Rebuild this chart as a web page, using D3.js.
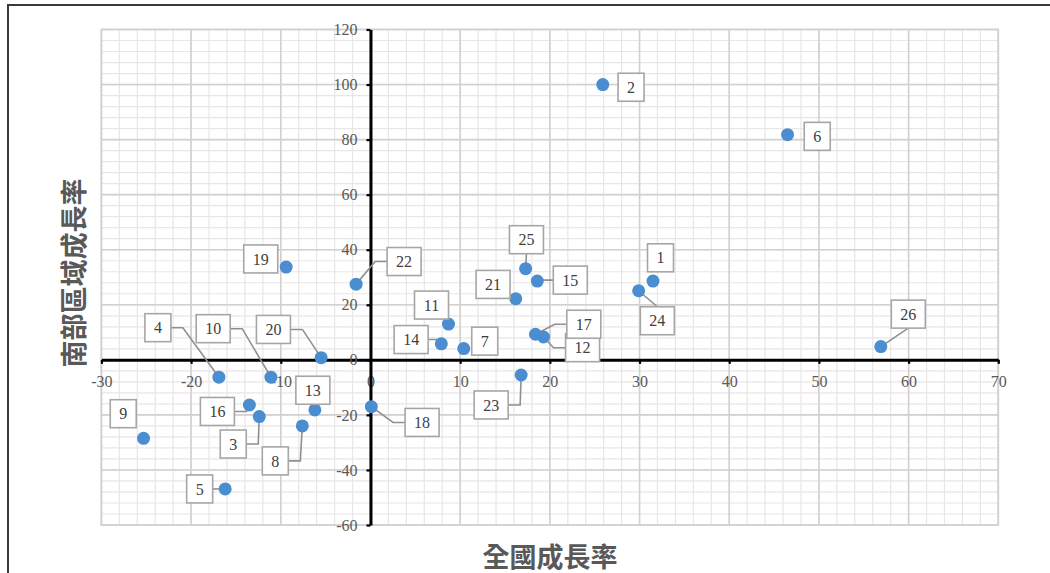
<!DOCTYPE html>
<html>
<head>
<meta charset="utf-8">
<script src="https://cdn.jsdelivr.net/npm/d3@7/dist/d3.min.js"></script>
<style>
  html, body { margin: 0; padding: 0; background: #fff; }
  svg { display: block; }
</style>
</head>
<body>
<svg id="chart" width="1050" height="573"></svg>
<script>
// Region numbers with their national growth rate (x) and southern-region growth rate (y), in %
const regionIds      = [1, 2, 3, 4, 5, 6, 7, 8, 9, 10, 11, 12, 13, 14, 15, 16, 17, 18, 19, 20, 21, 22, 23, 24, 25, 26];
const nationalGrowth = [31.5, 25.9, -12.4, -16.9, -16.2, 46.5, 10.4, -7.6, -25.3, -11.1, 8.7, 19.3, -6.2, 7.9, 18.6, -13.5, 18.4, 0.1, -9.4, -5.5, 16.2, -1.6, 16.8, 29.9, 17.3, 56.9];
const southGrowth    = [28.6, 100, -20.6, -6.3, -46.9, 81.8, 4.1, -24.0, -28.5, -6.3, 13.0, 8.3, -18.2, 5.8, 28.6, -16.4, 9.3, -17.0, 33.7, 0.8, 22.2, 27.5, -5.5, 25.1, 33.1, 4.8];

// Axis ticks
const xTicks = [-30, -20, -10, 0, 10, 20, 30, 40, 50, 60, 70];
const yTicks = [-60, -40, -20, 0, 20, 40, 60, 80, 100, 120];

// Axis titles
const xTitle = "全國成長率";
const yTitle = "南部區域成長率";

// Data-label placement: pixel offset of each label box from its point, and which
// box edge the leader line leaves from (null = no leader line)
const labelDx     = [7.5, 28.3, -26, -61, -25.5, 29.7, 21, -27, -20.3, -57.7, -17, 39, -2, -30.2, 33, -32, 48.3, 50.7, -25.4, -47.7, -22.7, 48, -30, 18.7, 0.8, 27.5];
const labelDy     = [-23.3, 2.7, 27.5, -49.5, 0, 1.7, -7.4, 35, -24.6, -48.5, -19, 10.7, -19.7, -4.3, -1, 6.5, -10, 15.8, -8.1, -28.2, -14.3, -22.6, 30, 30, -29, -32.5];
const labelLeader = [null, null, "R", "R", "R", null, null, "R", null, "R", null, "L", null, "R", "L", "R", "L", "L", null, "R", null, "L", "R", "T", "B", "B"];

const points = regionIds.map((id, i) => ({
  id, x: nationalGrowth[i], y: southGrowth[i],
  dx: labelDx[i], dy: labelDy[i], leader: labelLeader[i]
}));

const svg = d3.select("#chart");

// Outer frame
svg.append("path")
  .attr("d", "M8,1060 L8,5 L1060,5")
  .attr("fill", "none")
  .attr("stroke", "#3a3a3a")
  .attr("stroke-width", 2);

const plot = { left: 101.4, right: 998.3, top: 29.5, bottom: 525 };

const x = d3.scaleLinear().domain([-30, 70]).range([plot.left, plot.right]);
const y = d3.scaleLinear().domain([-60, 120]).range([plot.bottom, plot.top]);

// Grid: minor lines every 2 (x) and 4 (y), major lines at the tick values
const grid = svg.append("g");
grid.selectAll("line.vminor").data(d3.range(-30, 70.01, 2)).join("line")
  .attr("x1", d => x(d)).attr("x2", d => x(d))
  .attr("y1", plot.top).attr("y2", plot.bottom)
  .attr("stroke", "#e8e6e6").attr("stroke-width", 1.2);
grid.selectAll("line.hminor").data(d3.range(-60, 120.01, 4)).join("line")
  .attr("y1", d => y(d)).attr("y2", d => y(d))
  .attr("x1", plot.left).attr("x2", plot.right)
  .attr("stroke", "#e8e6e6").attr("stroke-width", 1.2);
grid.selectAll("line.vmajor").data(xTicks).join("line")
  .attr("x1", d => x(d)).attr("x2", d => x(d))
  .attr("y1", plot.top).attr("y2", plot.bottom)
  .attr("stroke", "#d2d0d0").attr("stroke-width", 1.6);
grid.selectAll("line.hmajor").data(yTicks).join("line")
  .attr("y1", d => y(d)).attr("y2", d => y(d))
  .attr("x1", plot.left).attr("x2", plot.right)
  .attr("stroke", "#d2d0d0").attr("stroke-width", 1.6);
grid.append("rect")
  .attr("x", plot.left).attr("y", plot.top)
  .attr("width", plot.right - plot.left).attr("height", plot.bottom - plot.top)
  .attr("fill", "none").attr("stroke", "#d2d0d0").attr("stroke-width", 1.6);

// Axes crossing at the origin
const fmt = d => String(d);
const xAxis = svg.append("g")
  .attr("transform", `translate(0,${y(0)})`)
  .call(d3.axisBottom(x).tickValues(xTicks).tickFormat(fmt).tickSize(4).tickSizeOuter(0).tickPadding(12));
const yAxis = svg.append("g")
  .attr("transform", `translate(${x(0)},0)`)
  .call(d3.axisLeft(y).tickValues(yTicks).tickFormat(fmt).tickSize(4).tickSizeOuter(0).tickPadding(9));

[xAxis, yAxis].forEach(g => {
  g.selectAll("text")
    .attr("fill", "#595959")
    .style("font-family", "'Liberation Serif', 'DejaVu Serif', serif")
    .style("font-size", "16px");
  g.selectAll(".tick line").attr("stroke", "#000").attr("stroke-width", 2.2);
  g.select(".domain").attr("stroke", "#000").attr("stroke-width", 3);
});
// Axis lines sit above the tick labels
xAxis.select(".domain").raise();
yAxis.select(".domain").raise();
yAxis.raise();

// Axis titles
svg.append("text")
  .attr("x", 550).attr("y", 555)
  .attr("text-anchor", "middle").attr("dominant-baseline", "central")
  .attr("fill", "#595959")
  .style("font-family", "'Noto Sans CJK TC', 'Noto Sans CJK SC', sans-serif")
  .style("font-weight", "bold").style("font-size", "27px")
  .text(xTitle);
svg.append("text")
  .attr("transform", "translate(72,273) rotate(-90)")
  .attr("text-anchor", "middle").attr("dominant-baseline", "central")
  .attr("fill", "#595959")
  .style("font-family", "'Noto Sans CJK TC', 'Noto Sans CJK SC', sans-serif")
  .style("font-weight", "bold").style("font-size", "27px")
  .text(yTitle);

// Label box geometry
const boxH = 28;
const boxW = d => 18 + 8 * String(d.id).length;

// Leader lines from the label box to its point
function leaderPath(d) {
  const px = x(d.x), py = y(d.y);
  const cx = px + d.dx, cy = py + d.dy;
  const w = boxW(d), h = boxH;
  if (d.leader === "L" || d.leader === "R") {
    const sx = d.leader === "R" ? cx + w / 2 : cx - w / 2;
    const dir = d.leader === "R" ? 1 : -1;
    const ex = sx + dir * Math.min(12, Math.abs(px - sx));
    return `M${sx},${cy}L${ex},${cy}L${px},${py}`;
  }
  const sy = d.leader === "B" ? cy + h / 2 : cy - h / 2;
  return `M${cx},${sy}L${px},${py}`;
}

svg.append("g").selectAll("path").data(points.filter(d => d.leader)).join("path")
  .attr("d", leaderPath)
  .attr("fill", "none")
  .attr("stroke", "#8f8f8f")
  .attr("stroke-width", 1.6);

// Points
svg.append("g").selectAll("circle").data(points).join("circle")
  .attr("cx", d => x(d.x))
  .attr("cy", d => y(d.y))
  .attr("r", 6.5)
  .attr("fill", "#4a8dd0");

// Data labels
const labels = svg.append("g").selectAll("g").data(points).join("g")
  .attr("transform", d => `translate(${x(d.x) + d.dx},${y(d.y) + d.dy})`);
labels.append("rect")
  .attr("x", d => -boxW(d) / 2).attr("y", -boxH / 2)
  .attr("width", d => boxW(d)).attr("height", boxH)
  .attr("fill", "#fff")
  .attr("stroke", "#a6a6a6")
  .attr("stroke-width", 1.6);
labels.append("text")
  .attr("text-anchor", "middle")
  .attr("dy", "0.35em")
  .attr("fill", "#404040")
  .style("font-family", "'Liberation Serif', 'DejaVu Serif', serif")
  .style("font-size", "16px")
  .text(d => d.id);
</script>
</body>
</html>
